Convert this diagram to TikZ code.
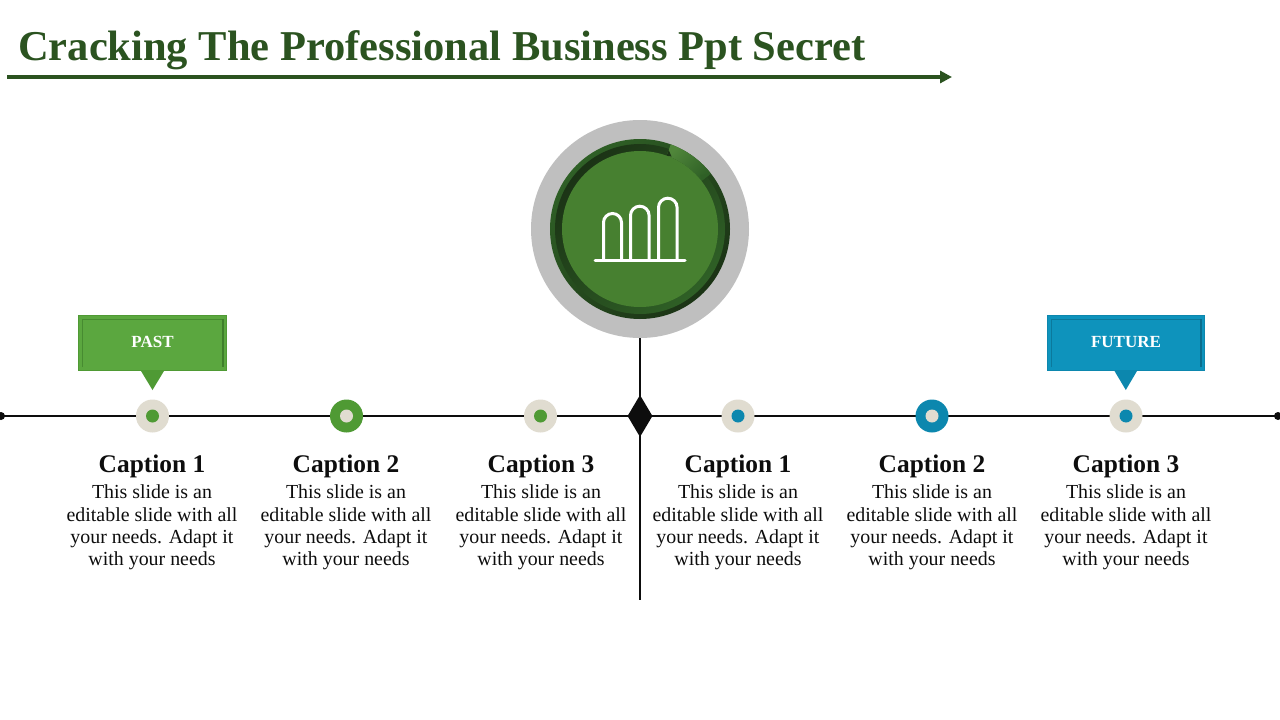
\documentclass[tikz,border=0pt]{standalone}
\usepackage{fontspec}
\setmainfont{Liberation Serif}
\usetikzlibrary{shapes.geometric,arrows.meta}
\definecolor{titlegreen}{HTML}{2B5320}
\definecolor{leaf}{HTML}{5BA73F}
\definecolor{leafdark}{HTML}{4F9A34}
\definecolor{leafedge}{HTML}{3F7F2B}
\definecolor{sea}{HTML}{0E93BC}
\definecolor{seadark}{HTML}{0C87AE}
\definecolor{seaedge}{HTML}{0A6E8E}
\definecolor{beige}{HTML}{E0DCD0}
\definecolor{ink}{HTML}{0D0D0D}
\definecolor{halo}{HTML}{BFBFBF}
\definecolor{disc}{HTML}{478030}
\definecolor{ringmid}{HTML}{2F6026}
\definecolor{ringdark}{HTML}{1B3315}
\tikzset{
  x=1pt,y=-1pt,
  dotnode/.style={circle,inner sep=0pt,minimum size=#1},
  capt/.style={align=center,font=\fontsize{25.4}{28}\selectfont\bfseries,text=ink,inner sep=0pt},
  body/.style={align=center,font=\fontsize{19.9}{22.4}\selectfont,text=ink,inner sep=0pt},
  tagtext/.style={font=\fontsize{17}{18}\selectfont\bfseries,text=white,inner sep=0pt},
  axisline/.style={draw=ink,line width=2.2pt},
}
\newcommand{\stopdot}[4]{% name,x,outer colour,inner colour
  \node[dotnode=33pt,fill=#3] (#1) at (#2,416) {};
  \node[dotnode=13pt,fill=#4] (#1i) at (#2,416) {};
}
\newcommand{\captblock}[3]{% name,x,title
  \node[capt,anchor=center] (#1c) at (#2,466.5) {#3};
  \node[body,anchor=north] (#1b) at (#2,484.6) {This slide is an\\editable slide with all\\your needs. Adapt it\\with your needs};
}
\newcommand{\tagbox}[7]{% name,left,right,fill,rim,inner line,text
  \node[draw=#5,fill=#4,line width=1pt,inner sep=0pt,minimum width=#3pt-#2pt,minimum height=55pt] (#1) at ({(#2+#3)/2},343) {};
  \draw[#6!70!#4,line width=1.2pt] (#2+4,367) -- (#2+4,319.5) -- (#3-4,319.5);
  \draw[#6,line width=2pt] (#3-4,319) -- (#3-4,367);
  \node[tagtext] (#1t) at (#1.center) [yshift=1pt] {#7};
}
\begin{document}
\begin{tikzpicture}
\useasboundingbox (0,0) rectangle (1280,720);
\fill[white] (0,0) rectangle (1280,720);
% title
\node[anchor=west,inner sep=0pt,text=titlegreen,font=\fontsize{42.5}{48}\selectfont\bfseries] (title) at (18,50) {Cracking The Professional Business Ppt Secret};
\coordinate (ta) at (7,77);
\coordinate (tb) at (952,77);
\draw[titlegreen,line width=4pt,-{Triangle[length=12pt,width=12pt]}] (ta) -- (tb);
% axes
\coordinate (l) at (1,416);
\coordinate (r) at (1278,416);
\coordinate (vt) at (640,338);
\coordinate (vb) at (640,600);
\draw[axisline] (l) -- (r);
\draw[axisline] (vt) -- (vb);
\node[dotnode=8pt,fill=ink] (ld) at (l) {};
\node[dotnode=8pt,fill=ink] (rd) at (r) {};
\node[diamond,fill=ink,inner sep=0pt,minimum width=25pt,minimum height=42pt] (mid) at (640,416) {};
% hub
\node[dotnode=218pt,fill=halo] (halo) at (640,229) {};
\node[dotnode=180pt,left color=ringmid,right color=ringdark,shading angle=45] (ring) at (640,229) {};
\node[dotnode=170pt,left color=ringdark,right color=ringmid,shading angle=45] (ringin) at (640,229) {};
\begin{scope}[shift={(640,229)},y=1pt]
  \shade[left color=disc!95!white,right color=ringmid,shading angle=45] (70:90pt) arc[start angle=70,end angle=38,radius=90pt] -- (38:78pt) arc[start angle=38,end angle=70,radius=78pt] -- cycle;
  \fill[ringdark] (70:84pt) -- (66.5:79pt) -- (70:78pt) -- cycle;
  \fill[ringmid] (38:88pt) -- (42:81pt) -- (38:79pt) -- cycle;
\end{scope}
\node[dotnode=156pt,fill=disc] (disc) at (640,229) {};
% icon
\draw[white,line width=3pt,line cap=round] (595,260) -- (685,260);
\draw[white,line width=3pt] (603.5,260) -- (603.5,222.5) arc[start angle=180,end angle=360,radius=9] -- (621.5,260);
\draw[white,line width=3pt] (630.5,260) -- (630.5,215.5) arc[start angle=180,end angle=360,radius=9.3] -- (649.1,260);
\draw[white,line width=3pt] (658.5,260) -- (658.5,207.5) arc[start angle=180,end angle=360,radius=9.3] -- (677.1,260);
% tags
\tagbox{past}{78.5}{226.5}{leaf}{leafdark}{leafedge}{PAST}
\tagbox{future}{1047.5}{1204.5}{sea}{seadark}{seaedge}{FUTURE}
\fill[leafdark] (141,371) -- (164,371) -- (152.5,390) -- cycle;
\fill[seadark] (1114.5,371) -- (1137,371) -- (1125.8,390) -- cycle;
% stops
\stopdot{a}{152.5}{beige}{leafdark}
\stopdot{b}{346.5}{leafdark}{beige}
\stopdot{c}{540.5}{beige}{leafdark}
\stopdot{d}{738}{beige}{seadark}
\stopdot{e}{932}{seadark}{beige}
\stopdot{f}{1126}{beige}{seadark}
% captions
\captblock{a}{152}{Caption 1}
\captblock{b}{346}{Caption 2}
\captblock{c}{541}{Caption 3}
\captblock{d}{738}{Caption 1}
\captblock{e}{932}{Caption 2}
\captblock{f}{1126}{Caption 3}
\end{tikzpicture}
\end{document}
